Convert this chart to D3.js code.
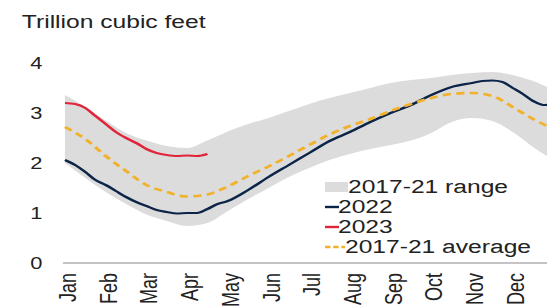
<!DOCTYPE html>
<html>
<head>
<meta charset="utf-8">
<script src="https://cdn.jsdelivr.net/npm/d3@7"></script>
<style>
  html, body { margin: 0; padding: 0; background: #fff; }
  svg { display: block; }
  text { font-family: "Liberation Sans", Arial, sans-serif; fill: #222; }
</style>
</head>
<body>
<div id="chart"></div>
<script>
// months as fractions of the year (0 = 1 Jan, 12 = 31 Dec)
var gridMonths = [0, 0.5, 1, 1.5, 2, 2.5, 3, 3.5, 4, 4.5, 5, 5.5, 6, 6.5, 7, 7.5, 8, 8.5, 9, 9.5, 10, 10.5, 11, 11.5, 12];
var rangeLow  = [2.0, 1.7, 1.42, 1.18, 0.97, 0.84, 0.74, 0.8, 1.04, 1.28, 1.5, 1.72, 1.9, 2.06, 2.18, 2.28, 2.36, 2.45, 2.6, 2.82, 2.9, 2.84, 2.62, 2.32, 2.06];
var rangeHigh = [3.36, 3.12, 2.85, 2.6, 2.45, 2.34, 2.3, 2.45, 2.63, 2.78, 2.9, 3.04, 3.18, 3.3, 3.4, 3.5, 3.6, 3.66, 3.7, 3.76, 3.8, 3.82, 3.76, 3.64, 3.46];
var average   = [2.72, 2.48, 2.14, 1.84, 1.56, 1.42, 1.33, 1.37, 1.53, 1.74, 1.93, 2.14, 2.36, 2.57, 2.74, 2.88, 3.04, 3.18, 3.3, 3.38, 3.4, 3.34, 3.12, 2.88, 2.68];

var months2022 = [0, 0.25, 0.5, 0.75, 1, 1.25, 1.5, 1.75, 2, 2.25, 2.5, 2.75, 3, 3.25, 3.5, 3.75, 4, 4.5, 5, 5.5, 6, 6.5, 7, 7.5, 8, 8.5, 9, 9.5, 10, 10.25, 10.5, 10.75, 11, 11.25, 11.5, 11.75, 12];
var values2022 = [2.06, 1.96, 1.82, 1.66, 1.56, 1.44, 1.32, 1.22, 1.14, 1.06, 1.02, 0.99, 1.0, 1.0, 1.08, 1.18, 1.24, 1.46, 1.72, 1.96, 2.2, 2.44, 2.62, 2.82, 3.0, 3.16, 3.36, 3.52, 3.6, 3.64, 3.65, 3.62, 3.5, 3.38, 3.24, 3.16, 3.18];

var months2023 = [0, 0.25, 0.5, 0.75, 1, 1.25, 1.5, 1.75, 2, 2.25, 2.5, 2.75, 3, 3.25, 3.5];
var values2023 = [3.2, 3.18, 3.1, 2.94, 2.78, 2.62, 2.5, 2.4, 2.28, 2.2, 2.16, 2.14, 2.15, 2.14, 2.18];

var monthLabels = ["Jan", "Feb", "Mar", "Apr", "May", "Jun", "Jul", "Aug", "Sep", "Oct", "Nov", "Dec"];
var yTicks = [0, 1, 2, 3, 4];

var legendItems = [
  {label: "2017-21 range", type: "band"},
  {label: "2022", type: "line", color: "#0b2447"},
  {label: "2023", type: "line", color: "#e0243a"},
  {label: "2017-21 average", type: "dash", color: "#f2b12a"}
];

// the picture is horizontally stretched, so draw in a narrower box and stretch it
var W = 547, H = 307, sx = 1.3675;
var vw = W / sx;

var svg = d3.select("#chart").append("svg")
  .attr("width", W).attr("height", H)
  .attr("viewBox", "0 0 " + vw + " " + H)
  .attr("preserveAspectRatio", "none");

var x = d3.scaleLinear().domain([0, 12]).range([65 / sx, (65 + 40.7 * 12) / sx]);
var y = d3.scaleLinear().domain([0, 4]).range([263, 63]);

// title
svg.append("text").attr("x", 16).attr("y", 28).style("font-size", "18px").text("Trillion cubic feet");

// range band
var band = gridMonths.map(function (m, i) { return {m: m, lo: rangeLow[i], hi: rangeHigh[i]}; });
svg.append("path")
  .datum(band)
  .attr("fill", "#dcdcdc")
  .attr("d", d3.area().curve(d3.curveMonotoneX)
    .x(d => x(d.m)).y0(d => y(d.lo)).y1(d => y(d.hi)));

// x axis line
svg.append("line")
  .attr("x1", 46).attr("x2", vw).attr("y1", y(0)).attr("y2", y(0))
  .attr("stroke", "#8a8a8a").attr("stroke-width", 1);

var line = d3.line().curve(d3.curveMonotoneX).x(d => x(d.m)).y(d => y(d.v));

var avgData = gridMonths.map((m, i) => ({m: m, v: average[i]}));
var d2022 = months2022.map((m, i) => ({m: m, v: values2022[i]}));
var d2023 = months2023.map((m, i) => ({m: m, v: values2023[i]}));

svg.append("path").datum(d2022)
  .attr("fill", "none").attr("stroke", "#0b2447").attr("stroke-width", 2.2)
  .attr("d", line);

svg.append("path").datum(avgData)
  .attr("fill", "none").attr("stroke", "#f2b12a").attr("stroke-width", 2.6)
  .attr("stroke-dasharray", "6,4")
  .attr("d", line);

svg.append("path").datum(d2023)
  .attr("fill", "none").attr("stroke", "#e0243a").attr("stroke-width", 2.2)
  .attr("d", line);

// y axis labels
var yAxis = svg.append("g")
  .attr("transform", "translate(34,0)")
  .call(d3.axisLeft(y).tickValues(yTicks).tickSize(0).tickPadding(3).tickFormat(d3.format("d")));
yAxis.select(".domain").remove();
yAxis.selectAll("text").style("font-size", "16px").style("font-family", null).attr("fill", "#222");

// x axis labels
var xAxis = svg.append("g")
  .attr("transform", "translate(0," + y(0) + ")")
  .call(d3.axisBottom(x).tickValues(d3.range(12)).tickSize(0)
    .tickFormat((d, i) => monthLabels[i]));
xAxis.select(".domain").remove();
xAxis.selectAll("text")
  .attr("transform", "rotate(-90)")
  .attr("x", -10).attr("y", 0).attr("dy", "0.42em")
  .style("text-anchor", "end")
  .style("font-size", "18px").style("font-family", null).attr("fill", "#222");

// legend
var lg = svg.append("g");
legendItems.forEach(function (it, i) {
  var by = 193 + i * 20;
  var tx;
  if (it.type === "band") {
    lg.append("rect").attr("x", 325 / sx).attr("y", by - 11).attr("width", 23 / sx).attr("height", 10).attr("fill", "#dcdcdc");
    tx = 348 / sx;
  } else if (it.type === "line") {
    lg.append("line").attr("x1", 325 / sx).attr("x2", 339 / sx).attr("y1", by - 6).attr("y2", by - 6)
      .attr("stroke", it.color).attr("stroke-width", 2.4);
    tx = 338 / sx;
  } else {
    lg.append("line").attr("x1", 325 / sx).attr("x2", 345 / sx).attr("y1", by - 6).attr("y2", by - 6)
      .attr("stroke", it.color).attr("stroke-width", 2.4).attr("stroke-dasharray", "4,2");
    tx = 345 / sx;
  }
  lg.append("text").attr("x", tx).attr("y", by).style("font-size", "18px").text(it.label);
});
</script>
</body>
</html>
